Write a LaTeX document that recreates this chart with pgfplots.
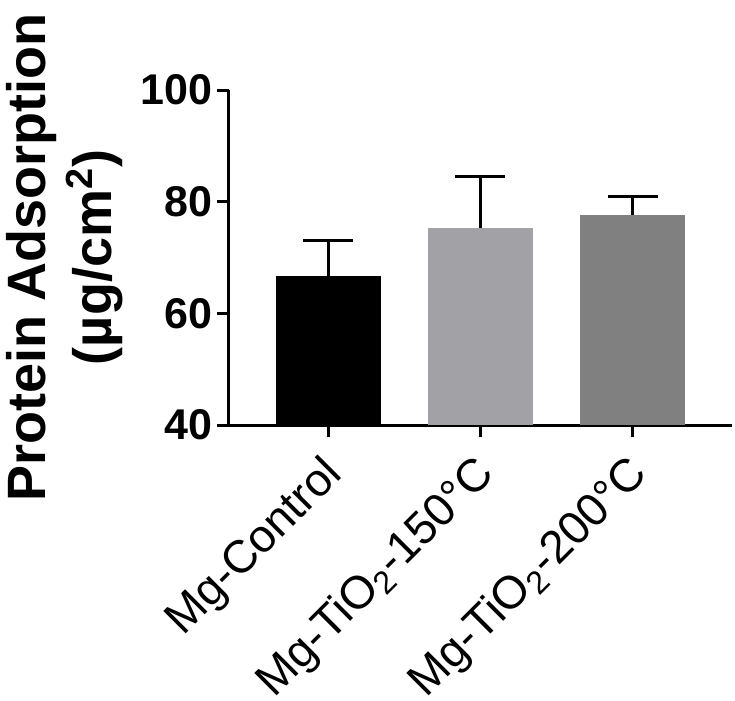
\documentclass[border=0pt]{standalone}
\usepackage{fontspec}
\setmainfont{Liberation Sans}
\usepackage{pgfplots}
\pgfplotsset{compat=1.18}
\usetikzlibrary{calc}
\definecolor{barlight}{HTML}{A2A2A6}
\definecolor{bardark}{HTML}{808080}

\begin{document}
\begin{tikzpicture}
\begin{axis}[
    name=ax,
    scale only axis,
    width=251.5pt, height=167.5pt,
    xmin=-0.65, xmax=2.65,
    ymin=40, ymax=100,
    ytick={40,60,80,100},
    xtick={0,1,2},
    xticklabels={Mg-Control, Mg-TiO\textsubscript{2}-150°C, Mg-TiO\textsubscript{2}-200°C},
    axis x line=bottom, axis y line=left,
    axis line style={-, line width=1.5pt},
    tick style={line width=1.5pt, black},
    tick align=outside,
    major tick length=6pt,
    /pgf/number format/assume math mode=true,
    yticklabel style={font=\fontsize{21.5}{24}\selectfont\bfseries, xshift=1pt},
    xticklabel style={font=\fontsize{23}{26}\selectfont, rotate=45, anchor=east, inner sep=0pt, xshift=-8pt, yshift=-13.5pt},
    ylabel={Protein Adsorption\\(µg/cm\textsuperscript{2})},
    ylabel style={font=\fontsize{27}{33}\selectfont\bfseries, align=center, yshift=2pt},
    ybar, bar width=52.5pt, bar shift=0pt,
    error bars/y dir=plus, error bars/y explicit,
    error bars/error bar style={line width=1.5pt, black},
    error bars/error mark options={rotate=90, mark size=12.5pt, line width=1.5pt, black},
    clip=false,
]
\addplot[fill=black, draw=none] coordinates {(0,66.7) +- (0,6.3)};
\addplot[fill=barlight, draw=none] coordinates {(1,75.3) +- (0,9.2)};
\addplot[fill=bardark, draw=none] coordinates {(2,77.7) +- (0,3.3)};
\end{axis}
% frame the page as in the reference
\pgfresetboundingbox
\useasboundingbox ($(ax.south west)+(-114.5pt,-138pt)$) rectangle ($(ax.north east)+(1.5pt,45pt)$);
\end{tikzpicture}
\end{document}
